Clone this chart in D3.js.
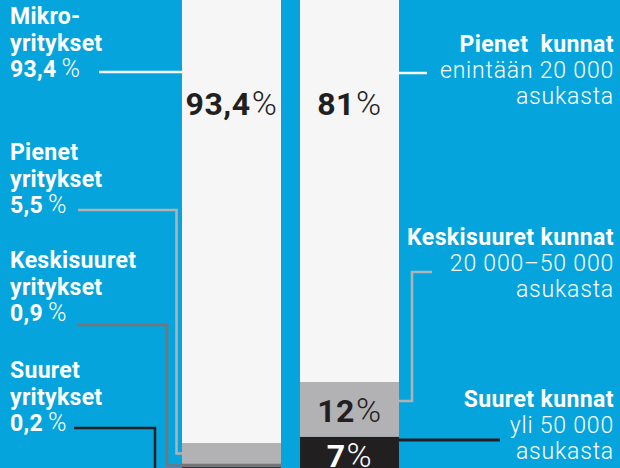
<!DOCTYPE html>
<html><head><meta charset="utf-8">
<script src="https://cdn.jsdelivr.net/npm/d3@7"></script>
<style>
html,body{margin:0;padding:0;background:#06a4dc;}
svg{display:block;font-family:Roboto, "Open Sans", sans-serif;}
</style></head>
<body>
<svg id="chart" width="620" height="468"></svg>
<script>
// ---- data ----
const groups = ["yritykset", "kunnat"];
const companyCategories = ["Mikroyritykset", "Pienet yritykset", "Keskisuuret yritykset", "Suuret yritykset"];
const companyShares = [93.4, 5.5, 0.9, 0.2];
const companyShareLabels = ["93,4", "5,5", "0,9", "0,2"];
const companyLabelLines = [["Mikro-", "yritykset"], ["Pienet", "yritykset"], ["Keskisuuret", "yritykset"], ["Suuret", "yritykset"]];
const municipalityCategories = ["Pienet  kunnat", "Keskisuuret kunnat", "Suuret kunnat"];
const municipalityShares = [81, 12, 7];
const municipalityShareLabels = ["81", "12", "7"];
const municipalitySubLines = [["enintään 20 000", "asukasta"], ["20 000–50 000", "asukasta"], ["yli 50 000", "asukasta"]];

// ---- styles ----
const BLUE = "#06a4dc";
const companyColors = ["#f6f6f6", "#b2b2b5", "#767678", "#221f20"];
const municipalityColors = ["#f6f6f6", "#b2b2b5", "#221f20"];
const lineColors = ["#f6f6f6", "#b2b2b5", "#767678", "#221f20"];
const munLineColors = ["#f6f6f6", "#b2b2b5", "#221f20"];

const svg = d3.select("#chart");
svg.append("rect").attr("width", 620).attr("height", 468).attr("fill", BLUE);

const x = d3.scaleBand().domain(groups).range([182, 399]).paddingInner(19 / 118);

function stackFromBottom(vals) {
  const n = vals.length;
  const out = new Array(n);
  let acc = 0;
  for (let i = n - 1; i >= 0; i--) { out[i] = [acc, acc + vals[i]]; acc += vals[i]; }
  return out;
}
const compStack = stackFromBottom(companyShares);
const munStack = stackFromBottom(municipalityShares);

// broken (piecewise) scales: the dominant top segment is compressed
const yComp = d3.scaleLinear().domain([0, compStack[1][1], 100]).range([468, 443, 0]);
const yMun = d3.scaleLinear().domain([0, munStack[1][1], 100]).range([469, 382, 0]);

svg.append("g").selectAll("rect").data(compStack).join("rect")
  .attr("x", x("yritykset")).attr("width", x.bandwidth())
  .attr("y", d => yComp(d[1])).attr("height", d => yComp(d[0]) - yComp(d[1]))
  .attr("fill", (d, i) => companyColors[i]);

svg.append("g").selectAll("rect").data(munStack).join("rect")
  .attr("x", x("kunnat")).attr("width", x.bandwidth())
  .attr("y", d => yMun(d[1])).attr("height", d => yMun(d[0]) - yMun(d[1]))
  .attr("fill", (d, i) => municipalityColors[i]);

function valueLabel(cx, y, num, color) {
  const t = svg.append("text").attr("x", cx).attr("y", y).attr("text-anchor", "middle")
    .attr("font-size", 32).attr("letter-spacing", 0.6).attr("fill", color);
  t.append("tspan").attr("font-weight", 700).text(num);
  t.append("tspan").attr("font-weight", 300).attr("font-size", 34).attr("dx", 1).text("%");
}
const cxC = x("yritykset") + x.bandwidth() / 2;
const cxM = x("kunnat") + x.bandwidth() / 2;
valueLabel(cxC, 115, companyShareLabels[0], "#221f20");
valueLabel(cxM, 115, municipalityShareLabels[0], "#221f20");
valueLabel(cxM, (yMun(munStack[1][0]) + yMun(munStack[1][1])) / 2 + 13, municipalityShareLabels[1], "#221f20");
valueLabel(cxM, 467, municipalityShareLabels[2], "#ffffff");

// left labels (one text element per label)
const leftTop = [24, 160, 268, 378];
const lh = 26.5;
companyCategories.forEach((c, i) => {
  const t = svg.append("text").attr("y", leftTop[i]).attr("fill", "#fff")
    .attr("font-size", 23).attr("letter-spacing", 0.3);
  companyLabelLines[i].forEach((l, j) => t.append("tspan").attr("x", 10).attr("dy", j === 0 ? 0 : lh)
    .attr("font-weight", 700).text(l));
  t.append("tspan").attr("x", 10).attr("dy", lh).attr("font-weight", 700).text(companyShareLabels[i]);
  t.append("tspan").attr("font-weight", 300).attr("font-size", 25).attr("dx", 5).text("%");
});

// left connectors
const barL = x("yritykset");
const segMid = i => (yComp(compStack[i][0]) + yComp(compStack[i][1])) / 2;
const connLeft = [
  [[99, leftTop[0] + 2 * lh - 5], [barL, leftTop[0] + 2 * lh - 5]],
  [[78, leftTop[1] + 2 * lh - 3], [176.5, leftTop[1] + 2 * lh - 3], [176.5, segMid(1)], [barL, segMid(1)]],
  [[78, leftTop[2] + 2 * lh + 4], [167, leftTop[2] + 2 * lh + 4], [167, segMid(2)], [barL, segMid(2)]],
  [[74, leftTop[3] + 2 * lh - 3], [155, leftTop[3] + 2 * lh - 3], [155, 476], [barL, 476]]
];
const line = d3.line();
connLeft.forEach((pts, i) => {
  svg.append("path").attr("d", line(pts)).attr("fill", "none")
    .attr("stroke", lineColors[i]).attr("stroke-width", 2.5);
});

// right labels
const rightTop = [52, 245, 407];
municipalityCategories.forEach((c, i) => {
  const t = svg.append("text").attr("y", rightTop[i]).attr("text-anchor", "end")
    .attr("fill", "#fff").attr("font-size", 23).style("white-space", "pre");
  t.append("tspan").attr("x", 614).attr("font-weight", 700).attr("letter-spacing", 0.4).text(c);
  municipalitySubLines[i].forEach((l, j) => {
    t.append("tspan").attr("x", 614).attr("dy", 26).attr("font-weight", 300)
      .attr("letter-spacing", 0.8).text(l);
  });
});

// right connectors
const barR = x("kunnat") + x.bandwidth();
const connRight = [
  [[barR, 73], [427, 73]],
  [[barR, 401], [412, 401], [412, 272], [432, 272]],
  [[barR, 440], [500, 440]]
];
connRight.forEach((pts, i) => {
  svg.append("path").attr("d", line(pts)).attr("fill", "none")
    .attr("stroke", munLineColors[i]).attr("stroke-width", i === 2 ? 3 : 2.5);
});
</script>
</body></html>
